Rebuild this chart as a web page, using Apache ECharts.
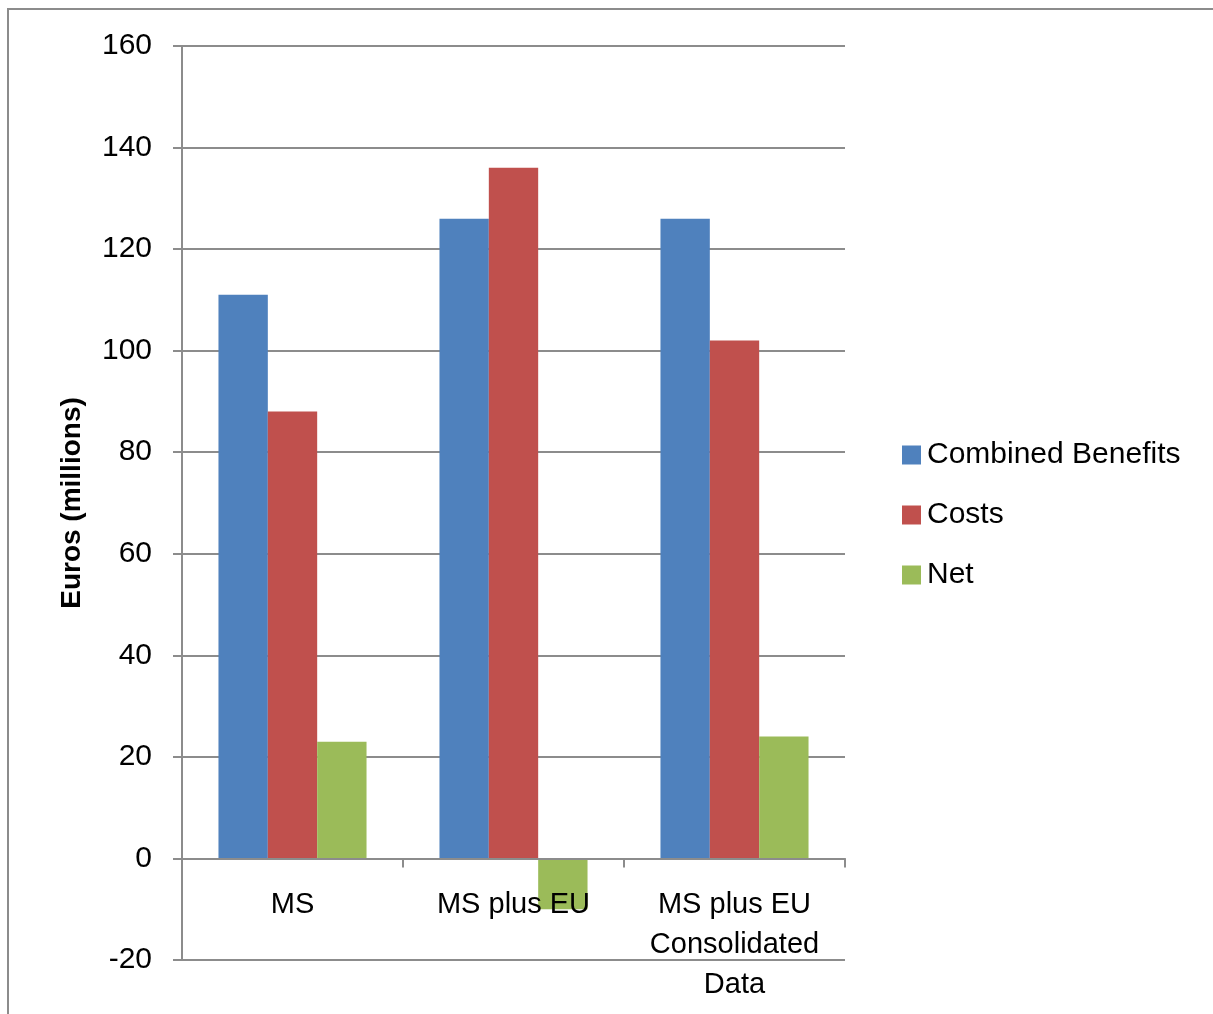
<!DOCTYPE html>
<html>
<head>
<meta charset="utf-8">
<script src="https://cdn.jsdelivr.net/npm/echarts@6/dist/echarts.min.js"></script>
<style>html,body{margin:0;padding:0;background:#fff}#c{width:1213px;height:1014px}</style>
</head>
<body>
<div id="c"></div>
<script>
const categories = ['MS', 'MS plus EU', 'MS plus EU\nConsolidated\nData'];
const combinedBenefits = [111, 126, 126];
const costs = [88, 136, 102];
const net = [23, -10, 24];
const seriesNames = ['Combined Benefits', 'Costs', 'Net'];
const yTicks = { min: -20, max: 160, interval: 20 };

const font = 'Liberation Sans';
const gridTop = 46, gridBottom = 54, chartH = 1014;
const plotH = chartH - gridTop - gridBottom;
// distance from bottom of the plot (value = min) up to the zero line
const zeroOffset = plotH * (0 - yTicks.min) / (yTicks.max - yTicks.min);

const chart = echarts.init(document.getElementById('c'));
chart.setOption({
  animation: false,
  backgroundColor: '#fff',
  color: ['#4F81BD', '#C0504D', '#9BBB59'],
  graphic: [{
    type: 'rect', silent: true, z: -1,
    shape: { x: 8, y: 9, width: 1300, height: 1100 },
    style: { fill: 'none', stroke: '#8c8c8c', lineWidth: 2 }
  }],
  grid: { left: 182, right: 368, top: gridTop, bottom: gridBottom, containLabel: false, outerBoundsMode: 'none' },
  legend: {
    orient: 'vertical', left: 897, top: 435,
    itemWidth: 19, itemHeight: 19, itemGap: 30,
    icon: 'rect',
    textStyle: { fontFamily: font, fontSize: 30, color: '#000', padding: [0, 0, 0, 1] },
    data: seriesNames
  },
  xAxis: {
    type: 'category', data: categories, z: 10,
    offset: -zeroOffset,
    axisLine: { onZero: false, lineStyle: { color: '#8c8c8c', width: 2 } },
    axisTick: { show: true, length: 9, lineStyle: { color: '#8c8c8c', width: 2 } },
    axisLabel: { fontFamily: font, fontSize: 29, color: '#000', margin: 27, lineHeight: 40, interval: 0 }
  },
  yAxis: {
    type: 'value', min: yTicks.min, max: yTicks.max, interval: yTicks.interval,
    name: 'Euros (millions)', nameLocation: 'middle', nameGap: 96,
    nameTextStyle: { fontFamily: font, fontSize: 28, fontWeight: 'bold', color: '#000' },
    axisLine: { show: true, lineStyle: { color: '#8c8c8c', width: 2 } },
    axisTick: { show: true, length: 9, lineStyle: { color: '#8c8c8c', width: 2 } },
    splitLine: { show: true, lineStyle: { color: '#8c8c8c', width: 2 } },
    axisLabel: { fontFamily: font, fontSize: 30, color: '#000', margin: 30 }
  },
  series: [
    { name: seriesNames[0], type: 'bar', data: combinedBenefits, barGap: '0%', barCategoryGap: '33%' },
    { name: seriesNames[1], type: 'bar', data: costs, barGap: '0%', barCategoryGap: '33%' },
    { name: seriesNames[2], type: 'bar', data: net, barGap: '0%', barCategoryGap: '33%' }
  ]
});
</script>
</body>
</html>
